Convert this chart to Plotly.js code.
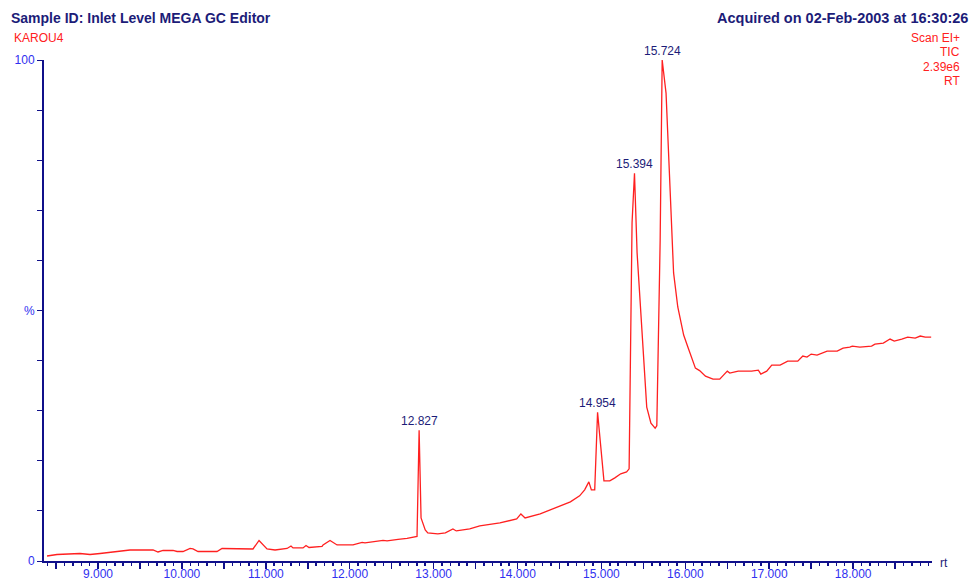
<!DOCTYPE html>
<html>
<head>
<meta charset="utf-8">
<script src="https://cdn.plot.ly/plotly-3.0.1.min.js"></script>
<style>html,body{margin:0;padding:0;background:#fff;}#chart{width:972px;height:580px;}</style>
</head>
<body>
<div id="chart"></div>
<script>
// Retention time (min) and relative intensity (%)
const rt = [8.392,8.511,8.785,8.905,9.024,9.381,9.656,9.715,9.775,9.894,9.942,10.013,10.097,10.132,10.192,10.418,10.478,10.716,10.728,10.847,10.919,11.014,11.110,11.253,11.300,11.324,11.443,11.479,11.515,11.670,11.682,11.765,11.849,12.039,12.147,12.182,12.397,12.445,12.576,12.683,12.802,12.827,12.85,12.90,12.93,13.05,13.14,13.23,13.27,13.43,13.55,13.79,13.99,14.04,14.09,14.27,14.39,14.51,14.63,14.74,14.80,14.85,14.88,14.92,14.954,15.03,15.10,15.16,15.23,15.30,15.33,15.365,15.394,15.425,15.48,15.54,15.59,15.64,15.66,15.70,15.724,15.77,15.82,15.86,15.91,15.98,16.03,16.12,16.17,16.24,16.33,16.41,16.50,16.53,16.63,16.79,16.87,16.90,16.97,17.03,17.13,17.22,17.34,17.40,17.45,17.50,17.57,17.69,17.81,17.88,17.96,17.99,18.08,18.22,18.26,18.36,18.44,18.49,18.58,18.65,18.74,18.80,18.86,18.93];
const intensity = [1.0,1.3,1.5,1.3,1.5,2.2,2.2,1.8,2.1,2.1,1.9,1.9,2.5,2.4,1.9,1.9,2.5,2.5,2.4,2.4,4.1,2.4,2.2,2.5,3.0,2.6,2.6,3.1,2.7,2.9,3.2,4.1,3.2,3.2,3.7,3.6,4.1,4.0,4.3,4.5,4.9,26.1,8.6,6.2,5.6,5.4,5.6,6.4,6.0,6.4,7.0,7.6,8.4,9.4,8.6,9.4,10.2,11.0,11.8,13.0,14.2,15.8,14.2,14.2,29.7,16.0,16.0,16.6,17.4,17.8,18.4,67.5,77.4,61.5,46.0,30.7,27.5,26.5,27.0,64.0,100,93.4,73.5,57.5,50.7,45.1,42.7,38.5,38.0,36.9,36.3,36.3,37.9,37.5,37.9,37.9,38.1,37.3,37.9,39.1,39.1,39.9,39.9,40.9,40.7,41.3,41.1,41.9,41.9,42.5,42.7,42.9,42.7,42.9,43.3,43.5,44.3,43.9,44.3,44.7,44.5,44.9,44.7,44.7];

const peakRT = [12.827, 14.954, 15.394, 15.724];
const peakVal = [26.1, 29.7, 77.4, 100];
const peakLabels = ["12.827", "14.954", "15.394", "15.724"];

const xLabelVals = [9,10,11,12,13,14,15,16,17,18];
const xLabels = ["9.000","10.000","11.000","12.000","13.000","14.000","15.000","16.000","17.000","18.000"];
const yLabelVals = [0,50,100];
const yLabels = ["0","%","100"];

const W = 972, H = 580;
const M = {l:44, r:40, t:60, b:19};
const pw = W - M.l - M.r, ph = H - M.t - M.b;
const px = x => (x - M.l) / pw;
const py = y => (H - M.b - y) / ph;

// x ticks every 0.5 with labels only on integers
const xtv = [], xtt = [];
for (let i = 0; i <= 20; i++) {
  const v = 8.5 + i * 0.5;
  xtv.push(v);
  const k = xLabelVals.indexOf(v);
  xtt.push(k >= 0 ? xLabels[k] : "");
}
const ytv = [], ytt = [];
for (let v = 0; v <= 100; v += 10) {
  ytv.push(v);
  const k = yLabelVals.indexOf(v);
  ytt.push(k >= 0 ? yLabels[k] : "");
}

const navy = "#1c1c78";
const axisNavy = "#10108a";
const tickBlue = "#3030f0";
const red = "#ff2020";
const font = "Liberation Sans, Arial, sans-serif";

const annotations = [];
peakRT.forEach((t, i) => annotations.push({
  x: t, y: peakVal[i], xref: "x", yref: "y", text: peakLabels[i],
  showarrow: false, yanchor: "bottom", xanchor: "center", yshift: 0,
  font: {family: font, size: 12, color: navy}
}));
function pAnn(text, x, y, xa, size, color, bold) {
  annotations.push({
    x: px(x), y: py(y), xref: "paper", yref: "paper", text: bold ? "<b>" + text + "</b>" : text,
    showarrow: false, xanchor: xa, yanchor: "middle",
    font: {family: font, size: size, color: color}
  });
}
pAnn("Sample ID: Inlet Level MEGA GC Editor", 9, 18, "left", 14, navy, true);
pAnn("Acquired on 02-Feb-2003 at 16:30:26", 970, 18, "right", 14.5, navy, true);
pAnn("KAROU4", 12, 38, "left", 12, red, false);
pAnn("Scan EI+", 962, 38, "right", 12, red, false);
pAnn("TIC", 962, 52, "right", 12, red, false);
pAnn("2.39e6", 962, 67, "right", 12, red, false);
pAnn("RT", 962, 81, "right", 12, red, false);
pAnn("rt", 938, 563, "left", 12, navy, false);

const trace = {
  x: rt, y: intensity, type: "scatter", mode: "lines",
  line: {color: red, width: 1.3}, hoverinfo: "skip"
};

const layout = {
  width: W, height: H,
  margin: M,
  paper_bgcolor: "#fff", plot_bgcolor: "#fff",
  showlegend: false,
  font: {family: font},
  xaxis: {
    range: [8.356, 18.94], showgrid: false, zeroline: false,
    showline: true, linecolor: axisNavy, linewidth: 2,
    tickmode: "array", tickvals: xtv, ticktext: xtt,
    ticks: "outside", ticklen: 6, tickwidth: 1.5, tickcolor: axisNavy,
    ticklabelstandoff: -5,
    tickfont: {family: font, size: 12, color: tickBlue},
    minor: {dtick: 0.1, tick0: 8.4, ticks: "outside", ticklen: 3, tickwidth: 1.5, tickcolor: axisNavy, showgrid: false}
  },
  yaxis: {
    range: [0, 100], showgrid: false, zeroline: false,
    showline: true, linecolor: axisNavy, linewidth: 2,
    tickmode: "array", tickvals: ytv, ticktext: ytt,
    ticks: "outside", ticklen: 5, tickwidth: 1, tickcolor: axisNavy,
    tickfont: {family: font, size: 12, color: tickBlue}
  },
  annotations: annotations
};

Plotly.newPlot("chart", [trace], layout, {staticPlot: true});
</script>
</body>
</html>
